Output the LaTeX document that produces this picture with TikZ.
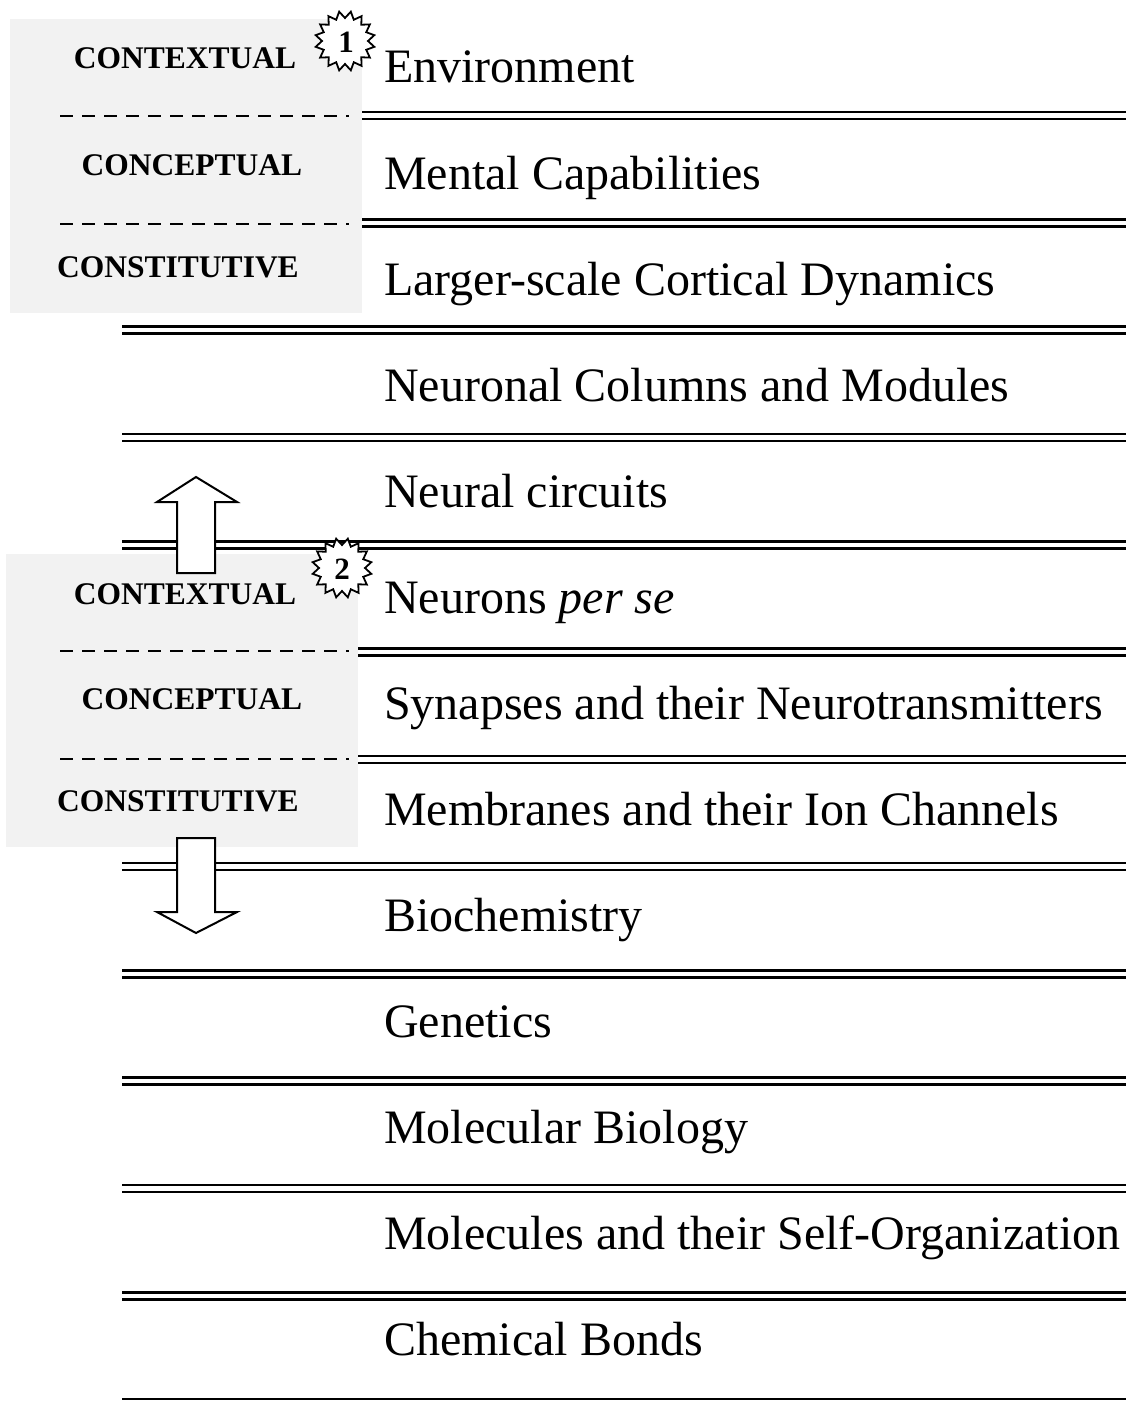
\documentclass[tikz,border=0pt]{standalone}
\usepackage{fontspec}
\setmainfont{Liberation Serif}
\usetikzlibrary{shapes.geometric}
\definecolor{panelgray}{HTML}{F2F2F2}
\begin{document}
\begin{tikzpicture}[x=1pt,y=-1pt,
  level/.style={font=\fontsize{48}{56}\selectfont, anchor=base west, inner sep=0pt},
  tag/.style={font=\fontsize{31.5}{36}\selectfont\bfseries, anchor=base, inner sep=0pt},
  rule/.style={line width=2.6pt},
  divider/.style={line width=1.6pt, dash pattern=on 13pt off 9pt},
  panel/.style={fill=panelgray, draw=none},
  badge/.style={star, star points=16, star point ratio=0.77, minimum size=46pt,
    inner sep=0pt, draw, fill=white, line width=1.8pt},
  badgenum/.style={font=\fontsize{31}{34}\selectfont\bfseries, inner sep=0pt},
  bigarrow/.style={draw, fill=white, line width=2pt, line join=miter}]
\useasboundingbox (0,0) rectangle (1126,1402);

% separating double rules between the levels
\foreach \i in {0,...,11}{
  \pgfmathsetmacro{\yy}{112+107.3*\i}
  \draw[rule] (122,\yy) -- (1126,\yy);
  \draw[rule] (122,\yy+7) -- (1126,\yy+7);
}
\draw[rule] (122,1399) -- (1126,1399);

% level labels
\node[level] (l0)  at (384, 83)   {Environment};
\node[level] (l1)  at (384, 189)  {Mental Capabilities};
\node[level] (l2)  at (384, 295)  {Larger-scale Cortical Dynamics};
\node[level] (l3)  at (384, 401)  {Neuronal Columns and Modules};
\node[level] (l4)  at (384, 507)  {Neural circuits};
\node[level] (l5)  at (384, 613)  {Neurons \textit{per se}};
\node[level] (l6)  at (384, 719)  {Synapses and their Neurotransmitters};
\node[level] (l7)  at (384, 825)  {Membranes and their Ion Channels};
\node[level] (l8)  at (384, 931)  {Biochemistry};
\node[level] (l9)  at (384, 1037) {Genetics};
\node[level] (l10) at (384, 1143) {Molecular Biology};
\node[level] (l11) at (384, 1249) {Molecules and their Self-Organization};
\node[level] (l12) at (384, 1355) {Chemical Bonds};

% first explanatory panel
\fill[panel] (10,19) rectangle (362,313);
\draw[divider] (60,116) -- (349,116);
\draw[divider] (60,224) -- (349,224);
\node[tag] (a1) at (185,69)  {CONTEXTUAL};
\node[tag] (a2) at (192,175) {CONCEPTUAL};
\node[tag] (a3) at (178,277) {CONSTITUTIVE};

% second explanatory panel
\fill[panel] (6,554) rectangle (358,847);
\draw[divider] (60,651) -- (349,651);
\draw[divider] (60,759) -- (349,759);
\node[tag] (b1) at (185,604) {CONTEXTUAL};
\node[tag] (b2) at (192,709) {CONCEPTUAL};
\node[tag] (b3) at (178,811) {CONSTITUTIVE};

% upward and downward block arrows
\draw[bigarrow] (177,573) -- (177,502) -- (157,502) -- (196,477) -- (237,502)
  -- (215,502) -- (215,573) -- cycle;
\draw[bigarrow] (177,838) -- (215,838) -- (215,912) -- (237,912) -- (196,933)
  -- (157,912) -- (177,912) -- cycle;

% numbered badges
\node[badge] (s1) at (345,41) {};
\node[badgenum] (n1) at (346,42) {1};
\node[badge] (s2) at (342,568) {};
\node[badgenum] (n2) at (342,569) {2};
\end{tikzpicture}
\end{document}
